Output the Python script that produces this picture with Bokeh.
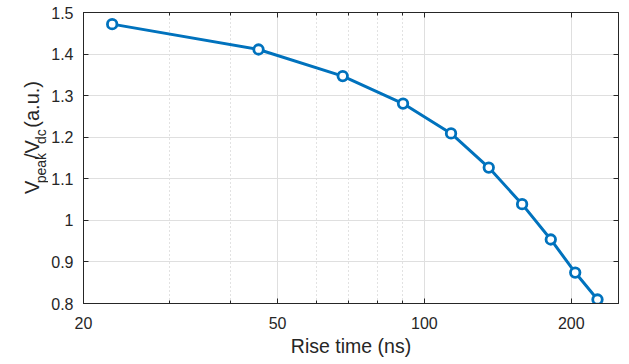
import math
from bokeh.plotting import figure
from bokeh.layouts import row
from bokeh.models import (FixedTicker, NumeralTickFormatter, CustomJSTickFormatter,
                          LogAxis, LinearAxis, Range1d)
from bokeh.core.properties import value
from bokeh.embed import file_html
from bokeh.resources import INLINE

# ---- data ----
rise_time = [22.9, 45.7, 68.0, 90.4, 113.4, 135.5, 158.6, 181.6, 203.8, 226.4]
v_ratio = [1.472, 1.411, 1.347, 1.281, 1.209, 1.127, 1.039, 0.954, 0.8745, 0.8096]
x_ticks = [20, 50, 100, 200]
x_minor_ticks = [30, 40, 60, 70, 80, 90]
y_ticks = [0.8, 0.9, 1.0, 1.1, 1.2, 1.3, 1.4, 1.5]
x_label = "Rise time (ns)"
y_label_parts = [("V", False), ("peak", True), ("/V", False), ("dc", True), (" (a.u.)", False)]

# ---- style ----
FONT = "Liberation Sans"
AX = "#262626"
BLUE = "#0072BD"
H = 364
LW = 48            # width of the strip that holds the y label
W = 629 - LW
X0, X1, Y0, Y1 = 20, 250, 0.8, 1.5

p = figure(width=W, height=H, x_axis_type="log",
           x_range=Range1d(X0, X1), y_range=Range1d(Y0, Y1),
           output_backend="svg", toolbar_location=None,
           min_border_left=81 - LW, min_border_right=11,
           min_border_top=12, min_border_bottom=61)
p.background_fill_color = "white"
p.border_fill_color = "white"
p.outline_line_color = AX
p.outline_line_width = 1

xt = FixedTicker(ticks=x_ticks, minor_ticks=x_minor_ticks)
yt = FixedTicker(ticks=y_ticks)
p.xaxis.ticker = xt
p.yaxis.ticker = yt
p.xaxis.formatter = NumeralTickFormatter(format="0")
p.yaxis.formatter = NumeralTickFormatter(format="0.[0]")

def style_axis(ax):
    ax.axis_line_color = AX
    ax.axis_line_width = 1
    ax.major_tick_line_color = AX
    ax.minor_tick_line_color = AX
    ax.major_tick_in = 5
    ax.major_tick_out = 0
    ax.minor_tick_in = 3
    ax.minor_tick_out = 0
    ax.major_label_text_font = FONT
    ax.major_label_text_color = AX
    ax.major_label_text_font_size = "16px"

style_axis(p.xaxis[0])
style_axis(p.yaxis[0])
p.xaxis.major_label_standoff = 13
p.yaxis.major_label_standoff = 10
p.xaxis.axis_label = x_label
p.xaxis.axis_label_text_font = FONT
p.xaxis.axis_label_text_font_size = "19.5px"
p.xaxis.axis_label_text_font_style = "normal"
p.xaxis.axis_label_text_color = AX
p.xaxis.axis_label_standoff = 3

blank = CustomJSTickFormatter(code="return '';")
top = LogAxis(ticker=xt, formatter=blank, major_label_standoff=0)
style_axis(top)
p.add_layout(top, "above")
right = LinearAxis(ticker=yt, formatter=blank, major_label_standoff=0)
style_axis(right)
p.add_layout(right, "right")

p.xgrid.grid_line_color = "#dfdfdf"
p.xgrid.minor_grid_line_color = "#c4c4c4"
p.xgrid.minor_grid_line_dash = "1 3"
p.ygrid.grid_line_color = "#dfdfdf"

p.line(rise_time, v_ratio, line_color=BLUE, line_width=3)
p.scatter(rise_time, v_ratio, marker="circle", size=9.5, line_width=2.8,
          line_color=BLUE, fill_color="white")

# ---- y axis label with subscripts (rotated), in its own strip ----
q = figure(width=LW, height=H, x_range=Range1d(0, LW), y_range=Range1d(0, H),
           output_backend="svg", toolbar_location=None,
           min_border=0, outline_line_color=None)
q.axis.visible = False
q.grid.visible = False
q.background_fill_color = "white"
q.border_fill_color = "white"

adv = {"V": .667, "p": .556, "e": .556, "a": .556, "k": .5, "/": .278,
       "d": .556, "c": .5, " ": .278, "(": .333, ".": .278, "u": .556, ")": .333}
main_fs, sub_fs = 20, 14
pos = 137.0   # start of the label, pixels above the bottom
for text, is_sub in y_label_parts:
    fs = sub_fs if is_sub else main_fs
    lead = len(text) - len(text.lstrip(" "))
    pos += lead * adv[" "] * fs          # SVG drops leading blanks: advance by hand
    body = text.lstrip(" ")
    q.text(x=[40.5 if is_sub else 31.0], y=[pos], text=[body], angle=math.pi / 2,
           text_font=value(FONT), text_font_size=value(f"{fs}px"),
           text_color=AX, text_align="left", text_baseline="alphabetic")
    pos += sum(adv[c] for c in body) * fs

layout = row(q, p)
open("out.html", "w").write(file_html(layout, INLINE))
